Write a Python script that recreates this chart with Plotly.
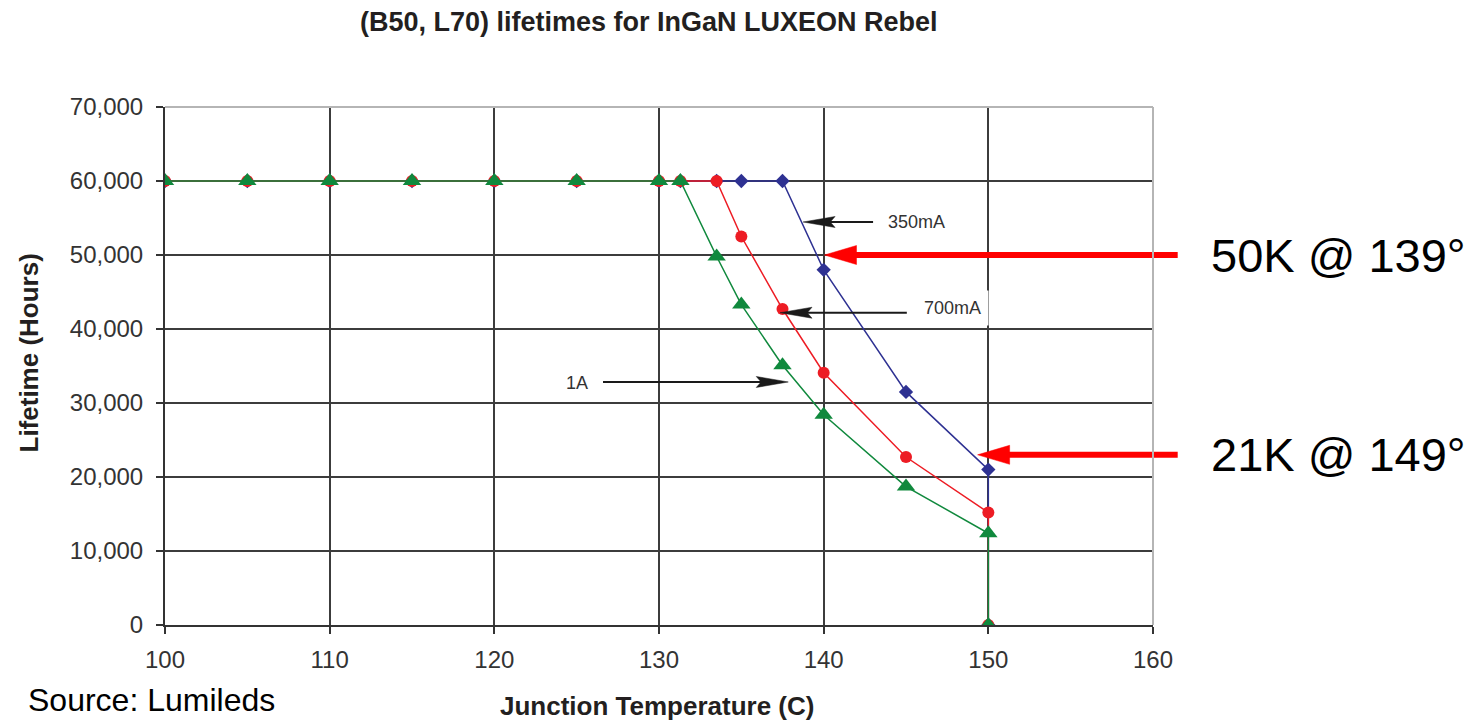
import plotly.graph_objects as go

# ---------------- data ----------------
temps = [100, 105, 110, 115, 120, 125, 130, 131.3, 133.5, 135, 137.5, 140, 145, 150, 150]
life_350mA = [60000, 60000, 60000, 60000, 60000, 60000, 60000, 60000, 60000, 60000, 60000, 48000, 31500, 21000, 0]
life_700mA = [60000, 60000, 60000, 60000, 60000, 60000, 60000, 60000, 60000, 52500, 42700, 34100, 22700, 15200, 0]
life_1A = [60000, 60000, 60000, 60000, 60000, 60000, 60000, 60000, 49800, 43300, 35100, 28400, 18700, 12400, 0]

x_ticks = [100, 110, 120, 130, 140, 150, 160]
y_ticks = [0, 10000, 20000, 30000, 40000, 50000, 60000, 70000]
y_tick_text = ["0", "10,000", "20,000", "30,000", "40,000", "50,000", "60,000", "70,000"]

title_text = "(B50, L70) lifetimes for InGaN LUXEON Rebel"
x_title = "Junction Temperature (C)"
y_title = "Lifetime (Hours)"
source_text = "Source: Lumileds"

# current labels: (text, label x, label y, arrow tip x, arrow tip y, arrow tail x)
current_labels = [
    ("350mA", 145.66, 54460, 138.75, 54460, 143.0),
    ("700mA", 147.8, 42840, 137.35, 42200, 145.05),
    ("1A", 125.0, 32700, 137.85, 32840, 126.6),
]
# highlight call-outs: (text, arrow tip x, arrow tip y)
callouts = [
    ("50K @ 139°", 140.05, 50000),
    ("21K @ 149°", 149.35, 23000),
]
callout_tail_x = 161.5
callout_text_x = 163.4

# ---------------- layout geometry ----------------
W, H = 1481, 720
ML, MR, MT, MB = 165, 328, 107, 95
PLOT_W = W - ML - MR
PLOT_H = H - MT - MB
X_MIN, X_MAX = 100, 160
Y_MIN, Y_MAX = 0, 70000

FONT = "Liberation Sans, Arial, Helvetica, sans-serif"
BLUE = "#2e3192"
RED = "#ed1c24"
GREEN = "#10893d"
GRID = "#3c3c3c"


def px(x):
    return (x - X_MIN) / (X_MAX - X_MIN)


def py(y):
    return (y - Y_MIN) / (Y_MAX - Y_MIN)


fig = go.Figure()
fig.add_trace(go.Scatter(x=temps, y=life_350mA, mode="lines+markers", name="350mA",
                         line=dict(color=BLUE, width=1.5),
                         marker=dict(symbol="diamond", size=11, color=BLUE)))
fig.add_trace(go.Scatter(x=temps, y=life_700mA, mode="lines+markers", name="700mA",
                         line=dict(color=RED, width=1.5),
                         marker=dict(symbol="circle", size=12, color=RED)))
fig.add_trace(go.Scatter(x=temps, y=life_1A, mode="lines+markers", name="1A",
                         line=dict(color=GREEN, width=1.5),
                         marker=dict(symbol="triangle-up", size=16, color=GREEN)))

shapes = []


def add_arrow(tip_x, tip_y, tail_x, color, width, head_len, head_half, notch=1.0):
    d = 1 if tail_x > tip_x else -1
    base = px(tip_x) + d * head_len * 0.7 / PLOT_W
    shapes.append(dict(type="line", xref="paper", yref="paper",
                       x0=px(tail_x), x1=base, y0=py(tip_y), y1=py(tip_y),
                       line=dict(color=color, width=width), layer="above"))
    path = (f"M0,0 L{d * head_len},{head_half} L{d * head_len * notch},0 "
            f"L{d * head_len},{-head_half} Z")
    shapes.append(dict(type="path", xref="paper", yref="paper",
                       xsizemode="pixel", ysizemode="pixel",
                       xanchor=px(tip_x), yanchor=py(tip_y), path=path,
                       fillcolor=color, line=dict(color=color, width=0.5), layer="above"))


for text, lx, ly, tx, ty, tl in current_labels:
    add_arrow(tx, ty, tl, "#1a1a1a", 2, 32, 5.5, notch=0.85)

for text, tx, ty in callouts:
    add_arrow(tx, ty, callout_tail_x, "#ff0000", 6, 32, 9.5)

# top & right light border
shapes.append(dict(type="line", xref="paper", yref="paper", x0=0, x1=1, y0=1, y1=1,
                   line=dict(color="#b5b5b5", width=2), layer="above"))
shapes.append(dict(type="line", xref="paper", yref="paper", x0=1, x1=1, y0=0, y1=1,
                   line=dict(color="#b5b5b5", width=2), layer="above"))

annotations = []
for text, lx, ly, tx, ty, tl in current_labels:
    annotations.append(dict(x=lx, y=ly, xref="x", yref="y", text=text, showarrow=False,
                            font=dict(family=FONT, size=18, color="#333333"),
                            bgcolor="white", borderpad=7 if text == "700mA" else 1))

for text, tx, ty in callouts:
    annotations.append(dict(x=px(callout_text_x), y=ty, xref="paper", yref="y", text=text,
                            showarrow=False, xanchor="left", yanchor="middle",
                            font=dict(family=FONT, size=47, color="black")))

annotations.append(dict(x=(648.5 - ML) / PLOT_W, y=(H - MB - 22) / PLOT_H, xref="paper", yref="paper",
                        text="<b>" + title_text + "</b>", showarrow=False,
                        xanchor="center", yanchor="middle",
                        font=dict(family=FONT, size=27, color="#231f20")))
annotations.append(dict(x=(656.5 - ML) / PLOT_W, y=(H - MB - 706) / PLOT_H, xref="paper", yref="paper",
                        text="<b>" + x_title + "</b>", showarrow=False,
                        xanchor="center", yanchor="middle",
                        font=dict(family=FONT, size=26, color="#231f20")))
annotations.append(dict(x=(28 - ML) / PLOT_W, y=(H - MB - 353.5) / PLOT_H, xref="paper", yref="paper",
                        text="<b>" + y_title + "</b>", showarrow=False, textangle=-90,
                        xanchor="center", yanchor="middle",
                        font=dict(family=FONT, size=26, color="#231f20")))
annotations.append(dict(x=(26 - ML) / PLOT_W, y=(H - MB - 700) / PLOT_H, xref="paper", yref="paper",
                        text=source_text, showarrow=False,
                        xanchor="left", yanchor="middle",
                        font=dict(family=FONT, size=32, color="black")))

fig.update_layout(
    width=W, height=H,
    margin=dict(l=ML, r=MR, t=MT, b=MB, pad=0),
    paper_bgcolor="white", plot_bgcolor="white",
    showlegend=False,
    shapes=shapes,
    annotations=annotations,
    font=dict(family=FONT),
)
fig.update_xaxes(range=[X_MIN, X_MAX], tickvals=x_ticks, ticks="outside", ticklen=7,
                 tickwidth=1.5, tickcolor="#333333", showline=True, linecolor="#333333",
                 linewidth=2, showgrid=True, gridcolor=GRID, gridwidth=1.5, zeroline=False,
                 tickfont=dict(family=FONT, size=24, color="#333333"), ticklabelstandoff=5)
fig.update_yaxes(range=[Y_MIN, Y_MAX], tickvals=y_ticks, ticktext=y_tick_text, ticks="outside",
                 ticklen=7, tickwidth=1.5, tickcolor="#333333", showline=True,
                 linecolor="#333333", linewidth=2, showgrid=True, gridcolor=GRID,
                 gridwidth=1.5, zeroline=False,
                 tickfont=dict(family=FONT, size=24, color="#333333"), ticklabelstandoff=8)

fig.write_html("out.html", config={"displayModeBar": False},
               post_script="document.body.style.margin='0';document.body.style.overflow='hidden';")
